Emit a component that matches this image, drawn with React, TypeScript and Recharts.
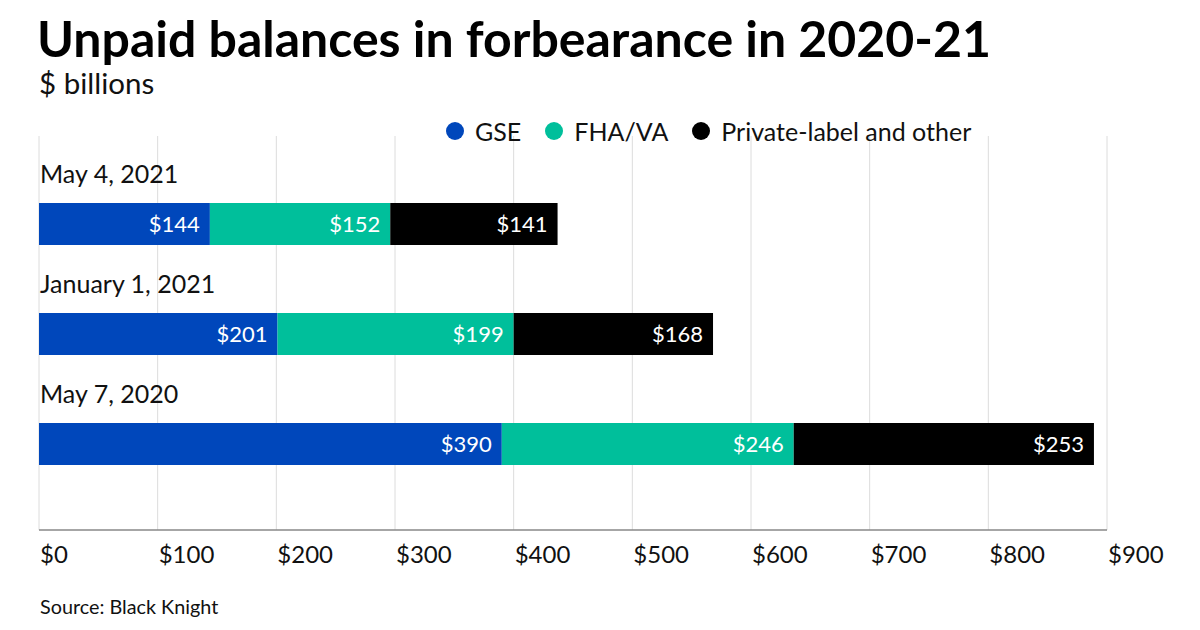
import React from "react";
import { BarChart, Bar, XAxis, YAxis, CartesianGrid, LabelList } from "recharts";

const categories = ["May 4, 2021", "January 1, 2021", "May 7, 2020"];
const gseValues = [144, 201, 390];
const fhaValues = [152, 199, 246];
const privateValues = [141, 168, 253];
const xTicks = [0, 100, 200, 300, 400, 500, 600, 700, 800, 900];
const seriesNames = ["GSE", "FHA/VA", "Private-label and other"];
const seriesColors = ["#0047BB", "#00BF9B", "#000000"];

const data = categories.map((c, i) => ({
  name: c,
  gse: gseValues[i],
  fha: fhaValues[i],
  priv: privateValues[i],
}));

const FONT = "Lato, 'Noto Sans', sans-serif";

const CategoryTick = (props: any) => {
  const { y, payload } = props;
  return (
    <text x={40} y={y - 41} fontSize={25} fill="#111" fontFamily={FONT} textAnchor="start">
      {payload.value}
    </text>
  );
};

const XTick = (props: any) => {
  const { x, y, payload } = props;
  return (
    <text x={x + 1} y={y + 25} fontSize={24} fill="#111" fontFamily={FONT} textAnchor="start">
      {`$${payload.value}`}
    </text>
  );
};

const fmt = (v: any) => `$${v}`;

export default function App() {
  return (
    <div
      style={{
        position: "absolute",
        left: 0,
        top: 0,
        width: 1200,
        height: 630,
        background: "#fff",
        fontFamily: FONT,
        overflow: "hidden",
      }}
    >
      <div
        style={{
          position: "absolute",
          left: 37,
          top: 8,
          fontSize: 50,
          fontWeight: 700,
          color: "#000",
          lineHeight: "60px",
          whiteSpace: "nowrap",
        }}
      >
        Unpaid balances in forbearance in 2020-21
      </div>
      <div
        style={{
          position: "absolute",
          left: 39,
          top: 66,
          fontSize: 29.5,
          color: "#111",
          lineHeight: "34px",
        }}
      >
        $ billions
      </div>
      <div style={{ position: "absolute", left: 0, top: 0 }}>
        <BarChart
          width={1200}
          height={630}
          data={data}
          layout="vertical"
          margin={{ top: 136, right: 93, bottom: 70, left: 38 }}
          barSize={42}
        >
          <CartesianGrid horizontal={false} stroke="#dcdcdc" strokeWidth={1} />
          <XAxis
            type="number"
            domain={[0, 900]}
            ticks={xTicks}
            tick={<XTick />}
            tickLine={false}
            axisLine={{ stroke: "#888", strokeWidth: 1.5 }}
            interval={0}
            height={30}
          />
          <YAxis
            type="category"
            dataKey="name"
            width={1}
            axisLine={false}
            tickLine={false}
            tick={<CategoryTick />}
            interval={0}
            padding={{ top: 33, bottom: 31 }}
          />
          <Bar dataKey="gse" stackId="a" fill={seriesColors[0]} isAnimationActive={false}>
            <LabelList dataKey="gse" position="insideRight" offset={10} fill="#fff" fontSize={22} fontFamily={FONT} formatter={fmt} />
          </Bar>
          <Bar dataKey="fha" stackId="a" fill={seriesColors[1]} isAnimationActive={false}>
            <LabelList dataKey="fha" position="insideRight" offset={10} fill="#fff" fontSize={22} fontFamily={FONT} formatter={fmt} />
          </Bar>
          <Bar dataKey="priv" stackId="a" fill={seriesColors[2]} isAnimationActive={false}>
            <LabelList dataKey="priv" position="insideRight" offset={10} fill="#fff" fontSize={22} fontFamily={FONT} formatter={fmt} />
          </Bar>
        </BarChart>
      </div>
      <div
        style={{
          position: "absolute",
          left: 446,
          top: 115,
          display: "flex",
          alignItems: "center",
          fontSize: 25,
          color: "#111",
          lineHeight: "32px",
          whiteSpace: "nowrap",
        }}
      >
        {seriesNames.map((n, i) => (
          <div key={n} style={{ display: "flex", alignItems: "center", marginRight: 24 }}>
            <span
              style={{
                display: "inline-block",
                width: 18,
                height: 18,
                borderRadius: 9,
                background: seriesColors[i],
                marginRight: 11,
              }}
            />
            <span>{n}</span>
          </div>
        ))}
      </div>
      <div
        style={{
          position: "absolute",
          left: 40,
          top: 594,
          fontSize: 19.8,
          color: "#111",
        }}
      >
        Source: Black Knight
      </div>
    </div>
  );
}
